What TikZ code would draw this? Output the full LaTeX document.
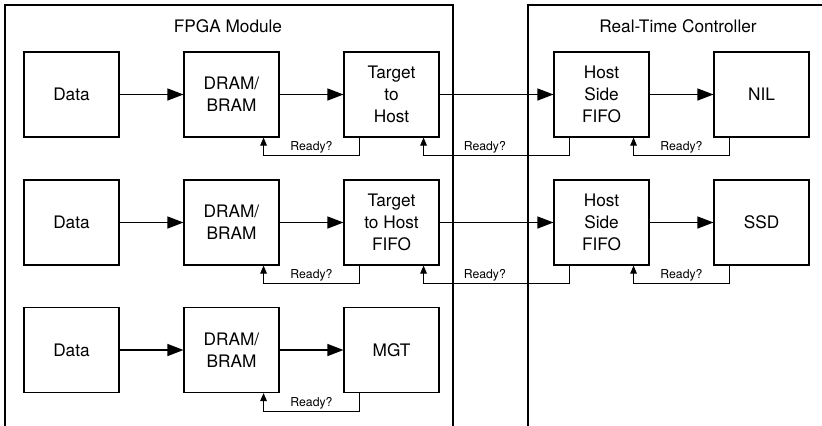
\documentclass[tikz,border=0pt]{standalone}
\usepackage{fontspec}
\setmainfont{TeX Gyre Heros}
\usetikzlibrary{arrows.meta}
\begin{document}
\begin{tikzpicture}[x=1bp,y=-1bp,
  blk/.style={draw, line width=1.1bp, minimum width=95bp, minimum height=85bp, inner sep=0pt,
    align=center, font=\fontsize{17.3}{22}\selectfont},
  flow/.style={line width=1.1bp, -{Triangle[length=16bp,width=12bp]}},
  back/.style={line width=1.1bp, -{Triangle[length=8bp,width=6.5bp]}},
  rdy/.style={font=\fontsize{12.3}{14}\selectfont, inner sep=1.5bp, above},
  region/.style={line width=1.1bp},
  ttl/.style={font=\fontsize{17.3}{20}\selectfont}]
\useasboundingbox (0,0) rectangle (822,425);
% regions
\draw[region] (5,426) -- (5,5) -- (453,5) -- (453,426);
\draw[region] (528,426) -- (528,5) -- (823,5);
\node[ttl] (t1) at (228,26) {FPGA Module};
\node[ttl] (t2) at (678,26) {Real-Time Controller};
% row 1
\node[blk] (d1) at (71.5,94.5) {Data};
\node[blk] (m1) at (231.5,94.5) {DRAM/\\BRAM};
\node[blk] (h1) at (391.5,94.5) {Target\\to\\Host};
\node[blk] (f1) at (601.5,94.5) {Host\\Side\\FIFO};
\node[blk] (n1) at (761.5,94.5) {NIL};
% row 2
\node[blk] (d2) at (71.5,222.5) {Data};
\node[blk] (m2) at (231.5,222.5) {DRAM/\\BRAM};
\node[blk] (h2) at (391.5,222.5) {Target\\to Host\\FIFO};
\node[blk] (f2) at (601.5,222.5) {Host\\Side\\FIFO};
\node[blk] (n2) at (761.5,222.5) {SSD};
% row 3
\node[blk] (d3) at (71.5,350) {Data};
\node[blk] (m3) at (231.5,350) {DRAM/\\BRAM};
\node[blk] (h3) at (391.5,350) {MGT};
% forward arrows
\foreach \a/\b in {d1/m1,m1/h1,h1/f1,f1/n1,d2/m2,m2/h2,h2/f2,f2/n2,d3/m3,m3/h3}
  \draw[flow] (\a) -- (\b);
% ready loops
\foreach \a/\b/\p in {m1/h1/0.25,h1/f1/0.29,f1/n1/0.25,m2/h2/0.25,h2/f2/0.29,f2/n2/0.25,m3/h3/0.25}
  \draw[back] ([xshift=16bp]\b.south west) -- ++(0,18) -| node[rdy,pos=\p]{Ready?} ([xshift=-16bp]\a.south east);
\end{tikzpicture}
\end{document}
